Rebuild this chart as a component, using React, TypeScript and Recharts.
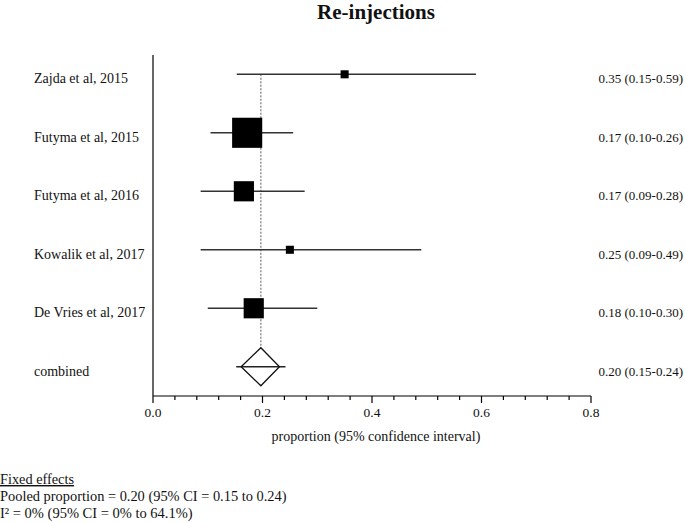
import React from 'react';
import { ComposedChart, Scatter, XAxis, YAxis } from 'recharts';

const studies = ['Zajda et al, 2015', 'Futyma et al, 2015', 'Futyma et al, 2016', 'Kowalik et al, 2017', 'De Vries et al, 2017'];
const estimates = [0.35, 0.172, 0.166, 0.25, 0.184];
const lowerCI = [0.153, 0.105, 0.087, 0.087, 0.1];
const upperCI = [0.59, 0.256, 0.277, 0.49, 0.3];
const weights = [3.5, 49, 22, 3.5, 22];
const ciLabels = ['0.35 (0.15-0.59)', '0.17 (0.10-0.26)', '0.17 (0.09-0.28)', '0.25 (0.09-0.49)', '0.18 (0.10-0.30)', '0.20 (0.15-0.24)'];
const pooledLabel = 'combined';
const pooledEstimate = 0.197;
const pooledCI = [0.152, 0.242];
const pooledDiamond = [0.161, 0.231];
const xTicks = [0, 0.04, 0.08, 0.12, 0.16, 0.2, 0.24, 0.28, 0.32, 0.36, 0.4, 0.44, 0.48, 0.52, 0.56, 0.6, 0.64, 0.68, 0.72, 0.76, 0.8];
const rowLabels = [...studies, pooledLabel];
const rowTicks = [0, 1, 2, 3, 4, 5];

const FONT = '"Liberation Serif", "Times New Roman", serif';
const DIAMOND_HALF = 0.325;
const POOLED_ROW = studies.length;

const squares = estimates.map((e, i) => ({ x: e, y: i, w: weights[i] }));
const ciSegments = studies.map((_, i) => [
  { x: lowerCI[i], y: i },
  { x: upperCI[i], y: i },
]);
const pooledLine = [
  { x: pooledCI[0], y: POOLED_ROW },
  { x: pooledCI[1], y: POOLED_ROW },
];
const diamond = [
  { x: pooledDiamond[0], y: POOLED_ROW },
  { x: pooledEstimate, y: POOLED_ROW - DIAMOND_HALF },
  { x: pooledDiamond[1], y: POOLED_ROW },
  { x: pooledEstimate, y: POOLED_ROW + DIAMOND_HALF },
  { x: pooledDiamond[0], y: POOLED_ROW },
];
const refLine = [
  { x: pooledEstimate, y: 0 },
  { x: pooledEstimate, y: POOLED_ROW - DIAMOND_HALF },
];

const Empty = () => <g />;

const SquareShape = (props: any) => {
  const { cx, cy, payload } = props;
  const side = Math.sqrt(payload.w) * 4.3;
  return <rect x={cx - side / 2} y={cy - side / 2} width={side} height={side} fill="#000" />;
};

const LeftTick = (props: any) => {
  const { y, payload } = props;
  return (
    <text x={34} y={y + 9} fontSize={14} fontFamily={FONT} fill="#111" textAnchor="start">
      {rowLabels[payload.value]}
    </text>
  );
};

const RightTick = (props: any) => {
  const { y, payload } = props;
  return (
    <text x={683} y={y + 9} fontSize={13} fontFamily={FONT} fill="#111" textAnchor="end">
      {ciLabels[payload.value]}
    </text>
  );
};

const XTick = (props: any) => {
  const { x, y, payload } = props;
  const v = payload.value;
  const major = Math.abs(v * 5 - Math.round(v * 5)) < 1e-6;
  return (
    <g>
      <line x1={x} x2={x} y1={y} y2={y + (major ? 7 : 4)} stroke="#000" strokeWidth={1.2} />
      {major && (
        <text x={x} y={y + 21} fontSize={13.5} fontFamily={FONT} fill="#111" textAnchor="middle">
          {v.toFixed(1)}
        </text>
      )}
    </g>
  );
};

export default function App() {
  return (
    <div style={{ position: 'absolute', left: 0, top: 0, width: 685, height: 523, background: '#fff' }}>
      <ComposedChart width={685} height={523} margin={{ top: 55, right: 0, bottom: 97, left: 0 }}>
        <XAxis
          type="number"
          dataKey="x"
          domain={[0, 0.8]}
          ticks={xTicks}
          interval={0}
          allowDataOverflow
          tickSize={0}
          tickMargin={0}
          height={30}
          axisLine={{ stroke: '#000', strokeWidth: 1.2 }}
          tickLine={false}
          tick={<XTick />}
        />
        <YAxis
          yAxisId="left"
          type="number"
          dataKey="y"
          domain={[-0.33, 5.5]}
          reversed
          allowDataOverflow
          ticks={rowTicks}
          interval={0}
          width={153}
          axisLine={{ stroke: '#000', strokeWidth: 1.2 }}
          tickLine={false}
          tick={<LeftTick />}
        />
        <YAxis
          yAxisId="right"
          orientation="right"
          type="number"
          dataKey="y"
          domain={[-0.33, 5.5]}
          reversed
          allowDataOverflow
          ticks={rowTicks}
          interval={0}
          width={94}
          axisLine={false}
          tickLine={false}
          tick={<RightTick />}
        />
        <Scatter
          yAxisId="left"
          data={refLine}
          line={{ stroke: '#777', strokeWidth: 1.2, strokeDasharray: '2 1.5' }}
          shape={<Empty />}
          isAnimationActive={false}
        />
        {ciSegments.map((seg, i) => (
          <Scatter
            key={'ci' + i}
            yAxisId="left"
            data={seg}
            line={{ stroke: '#333', strokeWidth: 1.4 }}
            shape={<Empty />}
            isAnimationActive={false}
          />
        ))}
        <Scatter
          yAxisId="right"
          data={[{ x: pooledEstimate, y: 0 }]}
          shape={<Empty />}
          isAnimationActive={false}
        />
        <Scatter yAxisId="left" data={squares} shape={<SquareShape />} isAnimationActive={false} />
        <Scatter
          yAxisId="left"
          data={pooledLine}
          line={{ stroke: '#222', strokeWidth: 1.3 }}
          shape={<Empty />}
          isAnimationActive={false}
        />
        <Scatter
          yAxisId="left"
          data={diamond}
          line={{ stroke: '#111', strokeWidth: 1.3 }}
          shape={<Empty />}
          isAnimationActive={false}
        />
      </ComposedChart>
      <svg
        width={685}
        height={523}
        style={{ position: 'absolute', left: 0, top: 0, pointerEvents: 'none' }}
      >
        <text x={376} y={19} fontSize={21} fontWeight="bold" fontFamily={FONT} textAnchor="middle" fill="#111">
          Re-injections
        </text>
        <text x={376} y={441} fontSize={14} fontFamily={FONT} textAnchor="middle" fill="#111">
          proportion (95% confidence interval)
        </text>
        <text x={0} y={484} fontSize={14.3} fontFamily={FONT} fill="#111" textDecoration="underline">
          Fixed effects
        </text>
        <text x={0} y={501} fontSize={14.4} fontFamily={FONT} fill="#111">
          Pooled proportion = 0.20 (95% CI = 0.15 to 0.24)
        </text>
        <text x={0} y={518} fontSize={14.5} fontFamily={FONT} fill="#111">
          I² = 0% (95% CI = 0% to 64.1%)
        </text>
      </svg>
    </div>
  );
}
